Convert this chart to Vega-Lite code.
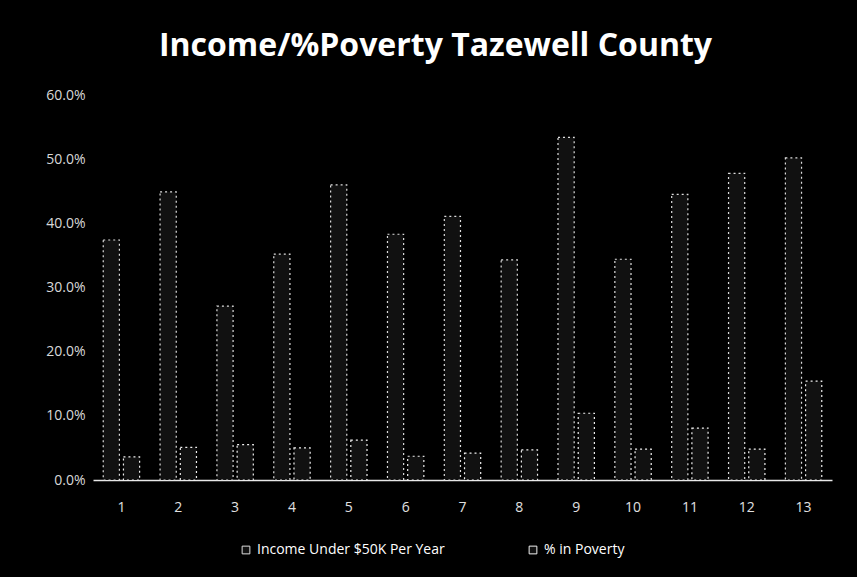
{
  "$schema": "https://vega.github.io/schema/vega-lite/v6.json",
  "width": 739,
  "height": 385,
  "autosize": "none",
  "padding": {"left": 93, "top": 95, "right": 25, "bottom": 97},
  "background": "black",
  "title": {
    "text": "Income/%Poverty Tazewell County",
    "color": "white",
    "font": "Open Sans",
    "fontSize": 32,
    "fontWeight": "bold",
    "anchor": "middle",
    "offset": 25,
    "dx": -27
  },
  "data": {
    "values": [
      {"tract": "1", "series": "Income Under $50K Per Year", "value": 0.374},
      {"tract": "1", "series": "% in Poverty", "value": 0.036},
      {"tract": "2", "series": "Income Under $50K Per Year", "value": 0.449},
      {"tract": "2", "series": "% in Poverty", "value": 0.051},
      {"tract": "3", "series": "Income Under $50K Per Year", "value": 0.271},
      {"tract": "3", "series": "% in Poverty", "value": 0.055},
      {"tract": "4", "series": "Income Under $50K Per Year", "value": 0.352},
      {"tract": "4", "series": "% in Poverty", "value": 0.05},
      {"tract": "5", "series": "Income Under $50K Per Year", "value": 0.46},
      {"tract": "5", "series": "% in Poverty", "value": 0.062},
      {"tract": "6", "series": "Income Under $50K Per Year", "value": 0.383},
      {"tract": "6", "series": "% in Poverty", "value": 0.037},
      {"tract": "7", "series": "Income Under $50K Per Year", "value": 0.411},
      {"tract": "7", "series": "% in Poverty", "value": 0.042},
      {"tract": "8", "series": "Income Under $50K Per Year", "value": 0.343},
      {"tract": "8", "series": "% in Poverty", "value": 0.047},
      {"tract": "9", "series": "Income Under $50K Per Year", "value": 0.534},
      {"tract": "9", "series": "% in Poverty", "value": 0.104},
      {"tract": "10", "series": "Income Under $50K Per Year", "value": 0.344},
      {"tract": "10", "series": "% in Poverty", "value": 0.048},
      {"tract": "11", "series": "Income Under $50K Per Year", "value": 0.445},
      {"tract": "11", "series": "% in Poverty", "value": 0.081},
      {"tract": "12", "series": "Income Under $50K Per Year", "value": 0.478},
      {"tract": "12", "series": "% in Poverty", "value": 0.048},
      {"tract": "13", "series": "Income Under $50K Per Year", "value": 0.502},
      {"tract": "13", "series": "% in Poverty", "value": 0.154}
    ]
  },
  "mark": {"type": "bar", "fill": "#111", "strokeWidth": 1.2, "strokeDash": [2, 3]},
  "encoding": {
    "x": {
      "field": "tract",
      "type": "nominal",
      "sort": ["1","2","3","4","5","6","7","8","9","10","11","12","13"],
      "scale": {"paddingInner": 0.36, "paddingOuter": 0.18},
      "axis": {
        "title": null,
        "labelAngle": 0,
        "labelColor": "#e0e0e0",
        "labelFont": "Open Sans",
        "labelFontSize": 14,
        "labelPadding": 20,
        "ticks": false,
        "domainColor": "#e8e8e8",
        "domainWidth": 1.5
      }
    },
    "xOffset": {
      "field": "series",
      "sort": ["Income Under $50K Per Year", "% in Poverty"],
      "scale": {"paddingInner": 0.2}
    },
    "y": {
      "field": "value",
      "type": "quantitative",
      "scale": {"domain": [0, 0.6]},
      "axis": {
        "title": null,
        "format": ".1%",
        "values": [0, 0.1, 0.2, 0.3, 0.4, 0.5, 0.6],
        "grid": false,
        "domain": false,
        "ticks": false,
        "labelColor": "#d8d8d8",
        "labelFont": "Open Sans",
        "labelFontSize": 14,
        "labelPadding": 8
      }
    },
    "stroke": {
      "field": "series",
      "type": "nominal",
      "sort": ["Income Under $50K Per Year", "% in Poverty"],
      "scale": {"domain": ["Income Under $50K Per Year", "% in Poverty"], "range": ["#dddddd", "#f0f0f0"]},
      "legend": {
        "title": null,
        "orient": "none",
        "direction": "horizontal",
        "legendX": 146,
        "legendY": 448,
        "labelColor": "white",
        "labelFont": "Open Sans",
        "labelFontSize": 14,
        "labelLimit": 400,
        "symbolType": "square",
        "symbolSize": 60,
        "symbolFillColor": "#111",
        "symbolStrokeWidth": 1,
        "columnPadding": 81
      }
    }
  },
  "config": {"view": {"stroke": null}}
}
